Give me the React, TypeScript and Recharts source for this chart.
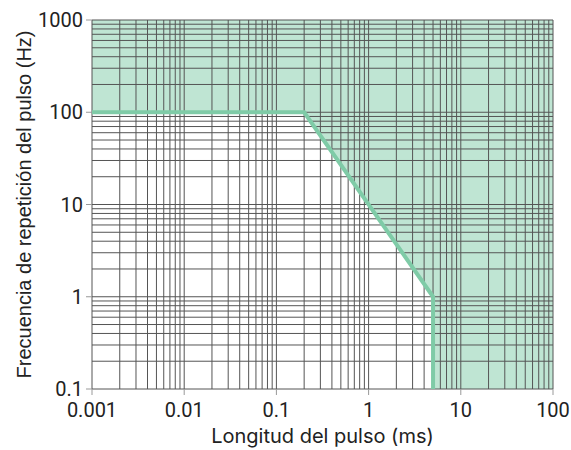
import {
  ComposedChart,
  Area,
  Line,
  XAxis,
  YAxis,
  CartesianGrid,
} from 'recharts';

// log decades shown on each axis
const xMajor = [0.001, 0.01, 0.1, 1, 10, 100];
const xMajorLabels = ['0.001', '0.01', '0.1', '1', '10', '100'];
const yMajor = [0.1, 1, 10, 100, 1000];
const yMajorLabels = ['0.1', '1', '10', '100', '1000'];
const minorSteps = [1, 2, 3, 4, 5, 6, 7, 8, 9];

// limit curve: pulse length (ms) vs max repetition frequency (Hz)
const limitX = [0.001, 0.2, 5, 5];
const limitHz = [100, 100, 1, 0.1];
// allowed region continues along the bottom edge to the right
const fillX = [0.001, 0.2, 5, 5, 100];
const fillLow = [100, 100, 1, 0.1, 0.1];
const fillTop = 1000;

const gridTicks = (majors: number[]) => {
  const out: number[] = [];
  majors.slice(0, -1).forEach((m) => minorSteps.forEach((s) => out.push(m * s)));
  out.push(majors[majors.length - 1]);
  return out;
};

const xTicks = gridTicks(xMajor);
const yTicks = gridTicks(yMajor);

const lineData = limitX.map((x, i) => ({ x, hz: limitHz[i] }));
const areaData = fillX.map((x, i) => ({ x, range: [fillLow[i], fillTop] }));

const majorIndex = (v: number, majors: number[]) =>
  majors.findIndex((m) => Math.abs(m - v) / m < 1e-6);

const GREEN = '#7fcba7';
const GRID = '#555';
const TICK_FONT = 'Roboto, "Open Sans", sans-serif';

const XTick = (props: any) => {
  const { x, y, payload } = props;
  const i = majorIndex(payload.value, xMajor);
  if (i < 0) return <g />;
  return (
    <g>
      <line x1={x} x2={x} y1={y - 8} y2={y - 2} stroke="#999" />
      <text
        x={x}
        y={y + 20}
        textAnchor="middle"
        fontFamily={TICK_FONT}
        fontSize={20}
        fill="#222"
      >
        {xMajorLabels[i]}
      </text>
    </g>
  );
};

const YTick = (props: any) => {
  const { x, y, payload } = props;
  const i = majorIndex(payload.value, yMajor);
  if (i < 0) return <g />;
  return (
    <g>
      <line x1={x + 2} x2={x + 8} y1={y} y2={y} stroke="#999" />
      <text
        x={x - 1}
        y={y + 7}
        textAnchor="end"
        fontFamily={TICK_FONT}
        fontSize={20}
        fill="#222"
      >
        {yMajorLabels[i]}
      </text>
    </g>
  );
};

export default function App() {
  return (
    <div style={{ position: 'absolute', left: 0, top: 0, background: '#fff' }}>
      <ComposedChart
        width={571}
        height={450}
        margin={{ top: 20, right: 18, left: 0, bottom: 0 }}
      >
        <XAxis
          dataKey="x"
          type="number"
          scale="log"
          domain={[0.001, 100]}
          ticks={xTicks}
          allowDataOverflow
          interval={0}
          height={61}
          tickSize={6}
          tickMargin={2}
          tickLine={false}
          axisLine={false}
          tick={<XTick />}
          label={{
            value: 'Longitud del pulso (ms)',
            position: 'insideBottom',
            offset: 7,
            style: {
              fontFamily: 'Inter, Roboto, sans-serif',
              fontSize: 20,
              fill: '#222',
            },
          }}
        />
        <YAxis
          type="number"
          scale="log"
          domain={[0.1, 1000]}
          ticks={yTicks}
          allowDataOverflow
          interval={0}
          width={92}
          tickSize={6}
          tickMargin={2}
          tickLine={false}
          axisLine={false}
          tick={<YTick />}
          label={{
            value: 'Frecuencia de repetición del pulso (Hz)',
            angle: -90,
            position: 'insideLeft',
            offset: 24,
            style: {
              textAnchor: 'middle',
              fontFamily: '"Liberation Sans", Arial, sans-serif',
              fontSize: 20,
              fill: '#222',
            },
          }}
        />
        <Area
          data={areaData}
          dataKey="range"
          type="linear"
          stroke="none"
          fill={GREEN}
          fillOpacity={0.5}
          isAnimationActive={false}
        />
        {/* @ts-ignore zIndex exists on newer recharts 3 */}
        <CartesianGrid stroke={GRID} strokeWidth={1} zIndex={300} />
        <Line
          data={lineData}
          dataKey="hz"
          type="linear"
          stroke={GREEN}
          strokeWidth={4}
          dot={false}
          isAnimationActive={false}
        />
      </ComposedChart>
    </div>
  );
}
